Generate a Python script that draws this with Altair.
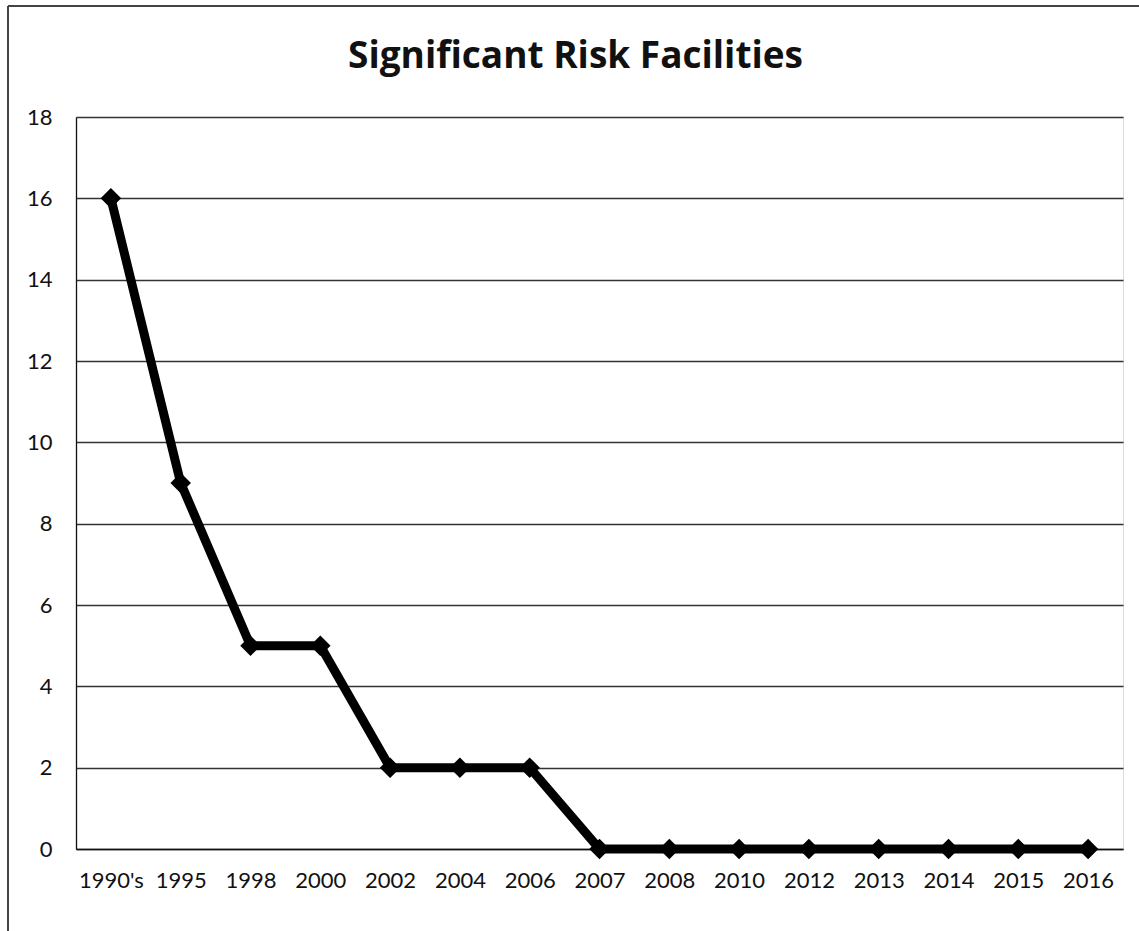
import altair as alt
import pandas as pd

# Count of significant-risk facilities by reporting period
periods = ["1990's", "1995", "1998", "2000", "2002", "2004", "2006", "2007",
           "2008", "2010", "2012", "2013", "2014", "2015", "2016"]
facilities = [16, 9, 5, 5, 2, 2, 2, 0, 0, 0, 0, 0, 0, 0, 0]

df = pd.DataFrame({"period": periods, "count": facilities})

FONT = "Lato"
W, H = 1047, 732

x_enc = alt.X("period:N", sort=periods, title=None,
              scale=alt.Scale(paddingInner=1, paddingOuter=0.5),
              axis=alt.Axis(labelAngle=0, ticks=False, labelPadding=21,
                            labelFontSize=22, labelFont=FONT, labelColor="#111",
                            domainColor="#111", domainWidth=1.3, grid=False))
y_enc = alt.Y("count:Q", title=None,
              scale=alt.Scale(domain=[0, 18], nice=False),
              axis=alt.Axis(values=list(range(0, 19, 2)), ticks=False,
                            labelPadding=24, labelFontSize=22, labelFont=FONT,
                            labelColor="#111", domainColor="#111",
                            domainWidth=1.3, grid=True, gridColor="#333",
                            gridWidth=1.4))

base = alt.Chart(df).encode(x=x_enc, y=y_enc)

line = base.mark_line(color="black", strokeWidth=9, strokeJoin="miter")
points = base.mark_point(shape="diamond", filled=True, color="black",
                         size=420, opacity=1)

# Outer frame edges (left and top) of the chart panel
frame_left = alt.Chart(df).mark_rule(color="#444", strokeWidth=1).encode(
    x=alt.value(-68), y=alt.value(-111), y2=alt.value(H + 90))
frame_top = alt.Chart(df).mark_rule(color="#444", strokeWidth=1).encode(
    x=alt.value(-68), x2=alt.value(W + 20), y=alt.value(-111))

chart = (
    alt.layer(frame_left, frame_top, line, points)
    .properties(
        width=W, height=H,
        title=alt.TitleParams("Significant Risk Facilities", font="Open Sans",
                              fontSize=37, fontWeight="bold", color="#111",
                              anchor="middle", frame="bounds", offset=-70),
        autosize=alt.AutoSizeParams(type="none"),
        padding={"left": 76, "top": 117, "right": 16, "bottom": 82},
    )
    .configure_view(stroke=None)
    .configure(background="white")
)

chart.save("out.html", embed_options={"renderer": "svg", "actions": False})
